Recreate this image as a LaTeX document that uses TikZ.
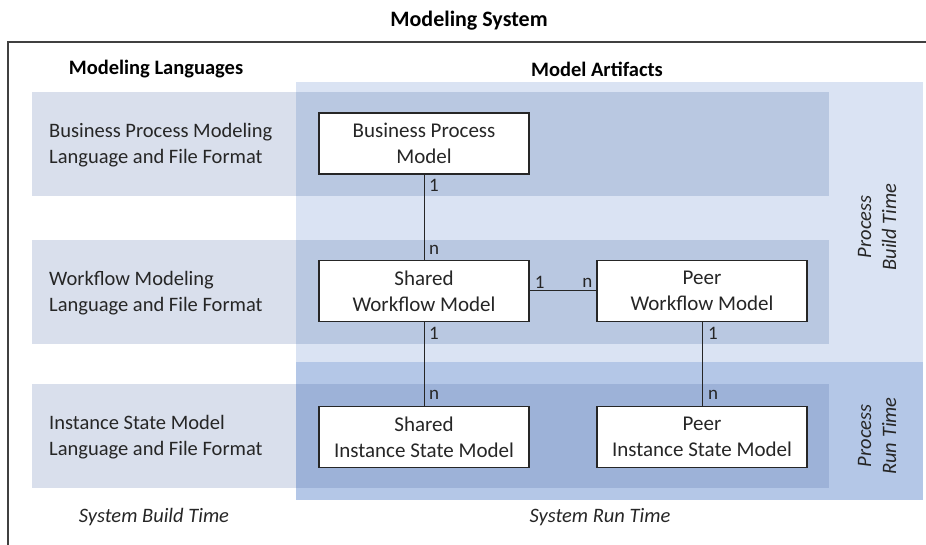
\documentclass[tikz,border=0pt]{standalone}
\usepackage{fontspec}
\setmainfont{Carlito}
\definecolor{langband}{HTML}{D9DFEC}
\definecolor{buildlight}{HTML}{DAE3F3}
\definecolor{builddark}{HTML}{B9C8E1}
\definecolor{runmid}{HTML}{B4C7E7}
\definecolor{rundark}{HTML}{9DB2D8}
\definecolor{ink}{HTML}{262626}
\definecolor{framecol}{HTML}{404040}
\begin{document}
\begin{tikzpicture}[x=1pt,y=-1pt,
  modelbox/.style={draw=ink, line width=1.3pt, fill=white, minimum width=210pt,
    minimum height=61pt, align=center, inner sep=0pt, text=ink,
    font=\fontsize{21}{26}\selectfont},
  conn/.style={draw=ink, line width=1pt},
  lbl/.style={inner sep=0pt, text=ink, font=\fontsize{19}{22}\selectfont},
  langtext/.style={anchor=west, align=left, inner sep=0pt, text=ink,
    font=\fontsize{20.5}{26}\selectfont},
  heading/.style={inner sep=0pt, text=black, font=\fontsize{20.5}{24}\selectfont\bfseries},
  phase/.style={inner sep=0pt, text=ink, font=\fontsize{20.5}{25}\selectfont\itshape},
]
\useasboundingbox (0,0) rectangle (926,545);
% column regions
\fill[buildlight] (296,82) rectangle (923,362);
\fill[runmid] (296,362) rectangle (923,500);
% language bands
\fill[langband] (32,92) rectangle (296,196);
\fill[builddark] (296,92) rectangle (829,196);
\fill[langband] (32,240) rectangle (296,344);
\fill[builddark] (296,240) rectangle (829,344);
\fill[langband] (32,384) rectangle (296,488);
\fill[rundark] (296,384) rectangle (829,488);
% frame
\draw[framecol, line width=2pt] (8,547) -- (8,42) -- (928,42);
% headings
\node[heading, font=\fontsize{22}{26}\selectfont\bfseries] (title) at (469,20.5) {Modeling System};
\node[heading] (langhead) at (156,69.5) {Modeling Languages};
\node[heading] (arthead) at (597,69) {Model Artifacts};
% language texts
\node[langtext] (bpml) at (49,145) {Business Process Modeling\\Language and File Format};
\node[langtext] (wfml) at (49,293) {Workflow Modeling\\Language and File Format};
\node[langtext] (isml) at (49,437) {Instance State Model\\Language and File Format};
% phase texts
\node[phase, align=center, rotate=90] (pbt) at (877,227) {Process\\Build Time};
\node[phase, align=center, rotate=90] (prt) at (877,436) {Process\\Run Time};
\node[phase] (sbt) at (154,517) {System Build Time};
\node[phase] (srt) at (600,517) {System Run Time};
% model boxes
\node[modelbox] (bpm) at (424,143.5) {Business Process\\Model};
\node[modelbox] (swf) at (424,291) {Shared\\Workflow Model};
\node[modelbox] (pwf) at (702,291) {Peer\\Workflow Model};
\node[modelbox] (sism) at (424,437) {Shared\\Instance State Model};
\node[modelbox] (pism) at (702,437) {Peer\\Instance State Model};
% connectors
\draw[conn] (bpm) -- node[lbl, pos=0, xshift=10pt, yshift=-11pt] {1}
  node[lbl, pos=1, xshift=10pt, yshift=10pt] {n} (swf);
\draw[conn] (swf) -- node[lbl, pos=0, xshift=10pt, yshift=9pt] {1}
  node[lbl, pos=1, xshift=-9pt, yshift=8pt] {n} (pwf);
\draw[conn] (swf) -- node[lbl, pos=0, xshift=10pt, yshift=-11pt] {1}
  node[lbl, pos=1, xshift=10pt, yshift=11pt] {n} (sism);
\draw[conn] (pwf) -- node[lbl, pos=0, xshift=11pt, yshift=-11pt] {1}
  node[lbl, pos=1, xshift=11pt, yshift=11pt] {n} (pism);
\end{tikzpicture}
\end{document}
